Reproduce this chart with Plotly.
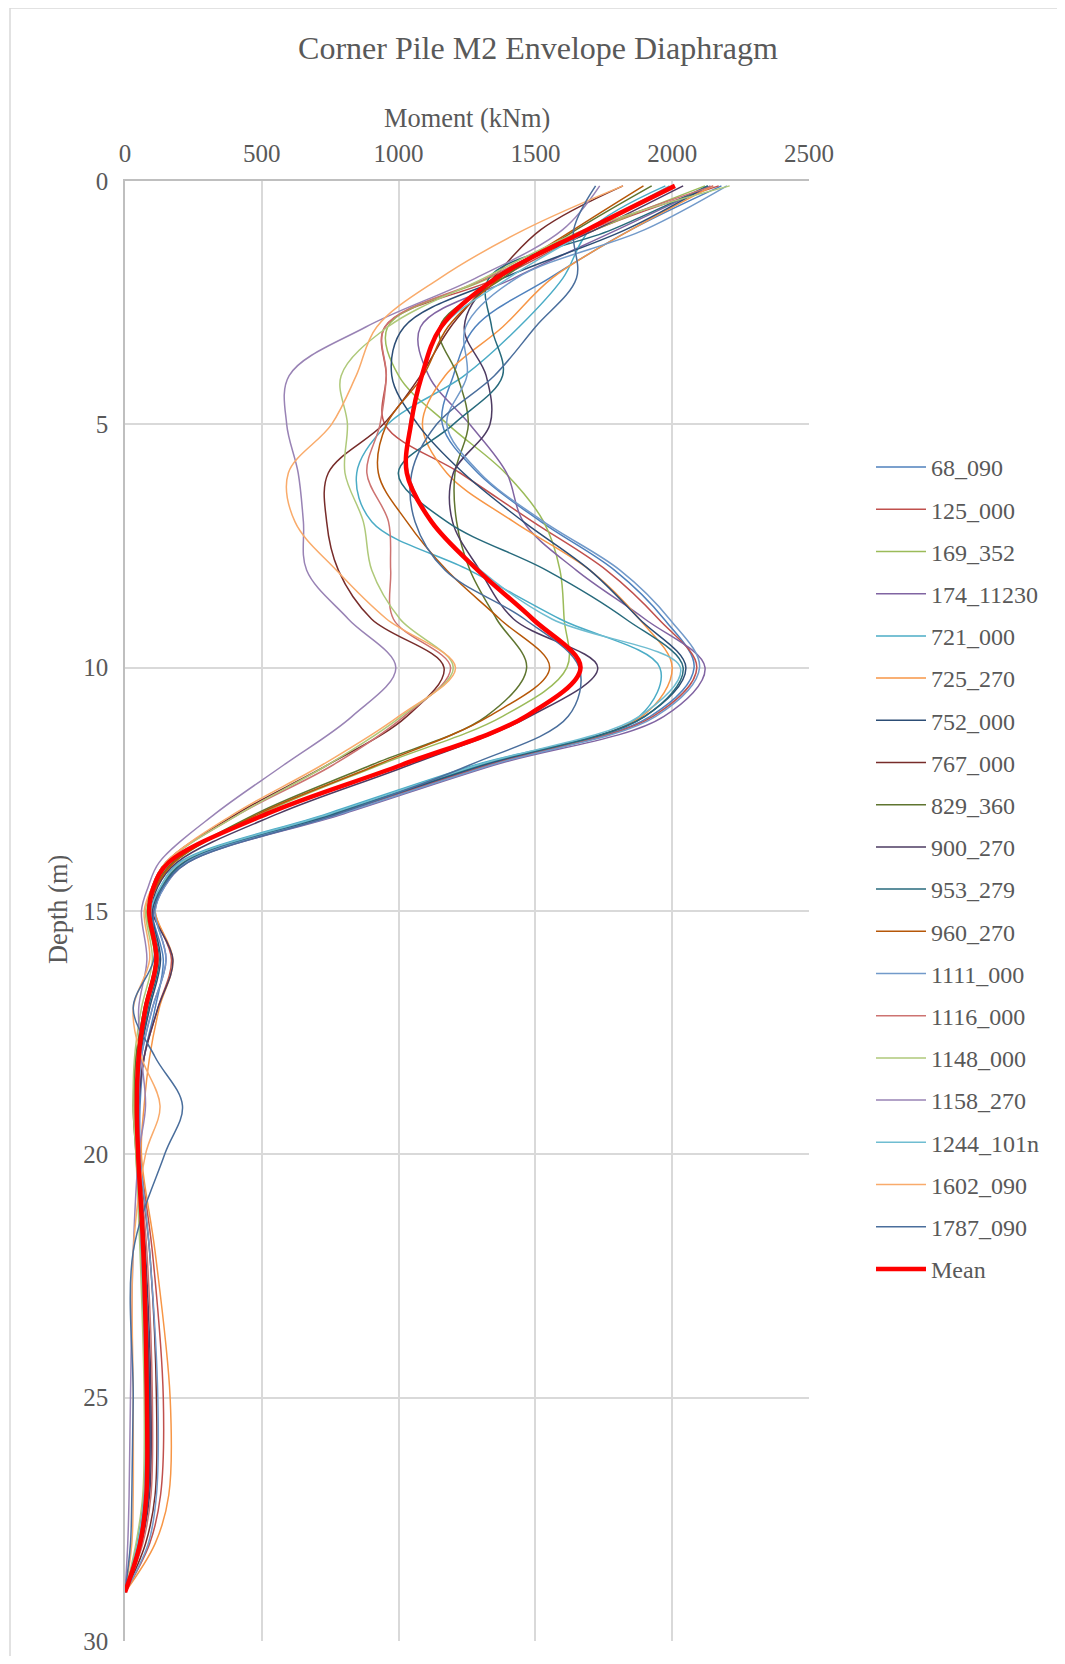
import plotly.graph_objects as go

# Depth points (m)
depth = [0.1, 1, 2, 3, 4, 5, 6, 7, 8, 9, 10, 11, 12, 13, 14, 14.5, 15, 16, 17, 18, 19, 20, 22, 25, 27, 28, 29]

series_names = ["68_090", "125_000", "169_352", "174_11230", "721_000", "725_270", "752_000",
                "767_000", "829_360", "900_270", "953_279", "960_270", "1111_000", "1116_000",
                "1148_000", "1158_270", "1244_101n", "1602_090", "1787_090"]

m_68_090 = [2180, 1850, 1550, 1280, 1200, 1160, 1290, 1520, 1790, 1970, 2080, 1920, 1320, 770, 215, 135, 100, 140, 110, 70, 55, 55, 70, 85, 80, 55, 0]
m_125_000 = [2170, 1720, 1360, 950, 955, 950, 1225, 1490, 1760, 1950, 2090, 1930, 1330, 780, 220, 140, 110, 170, 120, 70, 50, 55, 100, 140, 130, 90, 0]
m_169_352 = [2120, 1720, 1330, 960, 1000, 1180, 1390, 1530, 1590, 1605, 1615, 1380, 930, 500, 180, 115, 80, 110, 70, 40, 35, 45, 60, 75, 70, 45, 0]
m_174_11230 = [2140, 1800, 1420, 1080, 1110, 1260, 1395, 1456, 1650, 1900, 2120, 1970, 1350, 800, 230, 145, 110, 150, 100, 60, 50, 50, 70, 90, 85, 60, 0]
m_721_000 = [1975, 1700, 1600, 1440, 1240, 960, 847, 902, 1260, 1590, 1955, 1880, 1280, 740, 200, 130, 95, 120, 80, 50, 40, 45, 60, 75, 70, 45, 0]
m_725_270 = [2150, 1850, 1560, 1380, 1170, 1087, 1176, 1420, 1700, 1880, 2000, 1890, 1300, 760, 210, 135, 110, 175, 125, 90, 70, 60, 110, 165, 160, 110, 0]
m_752_000 = [2130, 1830, 1380, 1020, 975, 1070, 1237, 1456, 1700, 1880, 2050, 1900, 1310, 770, 220, 140, 100, 130, 90, 55, 45, 50, 70, 90, 85, 55, 0]
m_767_000 = [1820, 1520, 1345, 1190, 1080, 944, 743, 737, 780, 901, 1166, 1030, 740, 410, 150, 100, 85, 120, 80, 50, 40, 50, 90, 115, 110, 75, 0]
m_829_360 = [1925, 1650, 1380, 1150, 1215, 1255, 1206, 1212, 1261, 1358, 1468, 1320, 900, 480, 175, 110, 85, 110, 70, 40, 30, 40, 60, 75, 70, 45, 0]
m_900_270 = [2040, 1720, 1350, 1240, 1320, 1334, 1200, 1197, 1297, 1420, 1728, 1480, 1040, 560, 190, 120, 100, 175, 120, 70, 50, 50, 75, 95, 90, 60, 0]
m_953_279 = [2130, 1780, 1330, 1340, 1380, 1200, 999, 1176, 1541, 1830, 2040, 1900, 1300, 760, 215, 135, 95, 125, 85, 55, 45, 50, 70, 85, 80, 50, 0]
m_960_270 = [1895, 1640, 1370, 1180, 1090, 956, 926, 1030, 1176, 1370, 1552, 1330, 920, 490, 180, 115, 90, 120, 80, 50, 40, 45, 65, 80, 75, 50, 0]
m_1111_000 = [2200, 1900, 1430, 1245, 1250, 1176, 1297, 1530, 1810, 1990, 2100, 1940, 1340, 790, 225, 145, 110, 150, 100, 60, 50, 55, 90, 120, 115, 85, 0]
m_1116_000 = [2150, 1700, 1320, 950, 955, 932, 884, 963, 971, 981, 1190, 1020, 760, 420, 150, 100, 90, 120, 80, 50, 40, 50, 80, 100, 95, 65, 0]
m_1148_000 = [2210, 1680, 1310, 960, 790, 813, 804, 871, 902, 1005, 1200, 1010, 740, 420, 150, 100, 75, 100, 60, 35, 30, 40, 55, 70, 65, 40, 0]
m_1158_270 = [1735, 1600, 1280, 880, 600, 591, 633, 652, 664, 816, 990, 830, 580, 330, 125, 85, 60, 80, 50, 60, 75, 50, 30, 20, 15, 10, 0]
m_1244_101n = [1990, 1700, 1400, 1160, 1085, 1040, 1035, 1125, 1300, 1560, 2030, 1880, 1290, 750, 205, 130, 95, 120, 80, 50, 40, 45, 60, 75, 70, 45, 0]
m_1602_090 = [1820, 1460, 1150, 920, 845, 755, 597, 621, 773, 956, 1208, 1000, 720, 400, 150, 100, 70, 90, 30, 60, 128, 75, 30, 30, 30, 25, 0]
m_1787_090 = [1720, 1640, 1650, 1500, 1350, 1139, 1048, 1060, 1170, 1460, 1660, 1620, 1260, 780, 230, 140, 105, 105, 30, 110, 210, 145, 30, 30, 25, 20, 0]
m_mean = [2010, 1690, 1355, 1155, 1085, 1045, 1030, 1120, 1290, 1490, 1665, 1465, 1010, 520, 160, 105, 88, 115, 75, 50, 43, 48, 67, 80, 78, 55, 0]

series_values = [m_68_090, m_125_000, m_169_352, m_174_11230, m_721_000, m_725_270, m_752_000,
                 m_767_000, m_829_360, m_900_270, m_953_279, m_960_270, m_1111_000, m_1116_000,
                 m_1148_000, m_1158_270, m_1244_101n, m_1602_090, m_1787_090]

series_colors = ["#4F81BD", "#C0504D", "#9BBB59", "#8064A2", "#4BACC6", "#F79646", "#2C4D75",
                 "#772C2A", "#5F7530", "#4D3B62", "#276A7C", "#B65708", "#729ACA", "#CD7371",
                 "#AFC97A", "#9983B5", "#6FBDD1", "#F9AB6B", "#4A6E9C"]

x_ticks = [0, 500, 1000, 1500, 2000, 2500]
y_ticks = [0, 5, 10, 15, 20, 25, 30]

FONT = "Liberation Serif, Times New Roman, serif"
TXT = "#595959"

# page geometry (page pixels); the html body has an 8px default margin
OFF = 8
W, H = 1065 - 2 * OFF, 1664 - 2 * OFF
L, R, T, B = 125 - OFF, 809 - OFF, 181 - OFF, 1641 - OFF

fig = go.Figure()
for i, (name, vals, col) in enumerate(zip(series_names, series_values, series_colors)):
    fig.add_trace(go.Scatter(x=vals, y=depth, mode="lines", name=name,
                             line=dict(color=col, width=1.5, shape="spline", smoothing=1.0),
                             legendgroup="g%d" % i))
fig.add_trace(go.Scatter(x=m_mean, y=depth, mode="lines", name="Mean",
                         line=dict(color="#FF0000", width=4.5, shape="spline", smoothing=1.0),
                         legendgroup="gmean"))

pw = R - L
ph = B - T


def px_x(page_px):
    return (page_px - OFF - L) / pw


def px_y(page_py):
    return (B - (page_py - OFF)) / ph


fig.update_layout(
    width=W, height=H,
    margin=dict(l=L, r=W - R, t=T, b=H - B, autoexpand=False),
    paper_bgcolor="white", plot_bgcolor="white",
    font=dict(family=FONT, color=TXT, size=24),
    title=dict(text="Corner Pile M2 Envelope Diaphragm", font=dict(family=FONT, size=32, color=TXT),
               x=(538 - OFF) / W, xref="container", xanchor="center",
               y=1 - (48 - OFF) / H, yref="container", yanchor="middle"),
    xaxis=dict(side="top", range=[0, 2500], tickvals=x_ticks, ticktext=[str(v) for v in x_ticks],
               showgrid=True, gridcolor="#d9d9d9", gridwidth=1.5,
               showline=True, linecolor="#bfbfbf", linewidth=1.5,
               zeroline=False, ticks="", ticklabelstandoff=7,
               tickfont=dict(family=FONT, size=25, color=TXT)),
    yaxis=dict(autorange=False, range=[30, 0], tickvals=y_ticks, ticktext=[str(v) for v in y_ticks],
               showgrid=True, gridcolor="#d9d9d9", gridwidth=1.5,
               showline=True, linecolor="#bfbfbf", linewidth=1.5,
               zeroline=False, ticks="", ticklabelstandoff=10,
               tickfont=dict(family=FONT, size=25, color=TXT)),
    legend=dict(x=px_x(871), xanchor="left", y=px_y(445), yanchor="top",
                font=dict(family=FONT, size=24, color=TXT),
                tracegroupgap=8, itemwidth=50, bgcolor="rgba(0,0,0,0)"),
    showlegend=True,
)

fig.add_annotation(text="Moment (kNm)", x=0.5, y=px_y(118), xref="paper", yref="paper",
                   showarrow=False, font=dict(family=FONT, size=26.4, color=TXT),
                   xanchor="center", yanchor="middle")
fig.add_annotation(text="Depth (m)", x=px_x(58), y=px_y(910), xref="paper", yref="paper",
                   showarrow=False, textangle=-90, font=dict(family=FONT, size=26.4, color=TXT),
                   xanchor="center", yanchor="middle")

# chart-area border
fig.add_shape(type="rect", xref="paper", yref="paper",
              x0=px_x(10), x1=px_x(1090), y0=px_y(1690), y1=px_y(8),
              line=dict(color="#d9d9d9", width=1.5), layer="below")

fig.write_html("out.html")
